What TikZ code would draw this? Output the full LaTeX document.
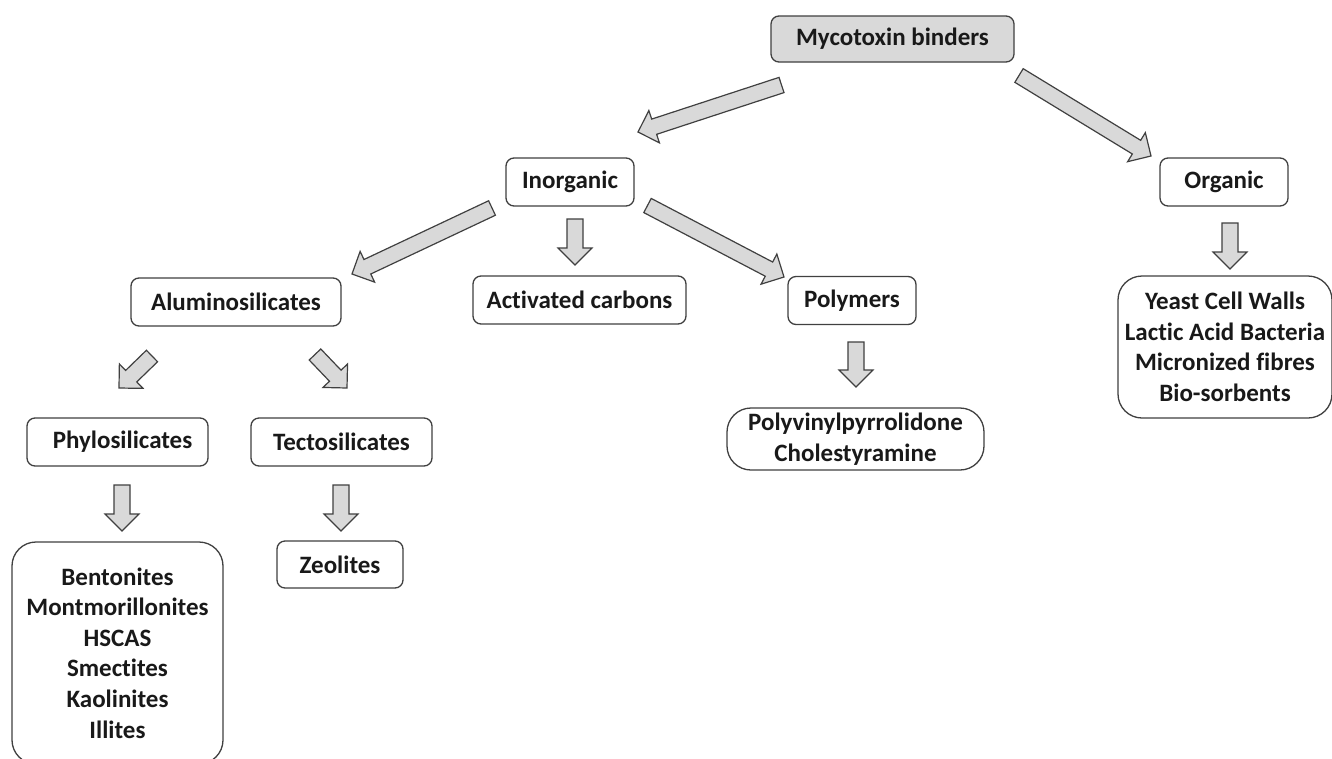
\documentclass[tikz,border=0pt]{standalone}
\usepackage{fontspec}
\setmainfont{Carlito}[Ligatures={NoCommon}]
\usetikzlibrary{calc}
\definecolor{boxline}{HTML}{404040}
\definecolor{arrfill}{HTML}{D9D9D9}
\tikzset{
  bx/.style={draw=boxline, line width=1.3pt, rounded corners=8pt, fill=white,
    font=\fontsize{25}{30.6}\selectfont\bfseries, text=black!90, align=center, inner sep=0pt},
  bigbx/.style={bx, rounded corners=24pt},
  barrow/.style={draw=boxline, line width=1.2pt, fill=arrfill, line join=miter},
}
\newcommand{\blockarr}[2]{%
  \coordinate (hb) at ($(#2)!17pt!(#1)$);
  \draw[barrow] ($(#1)!8pt!90:(#2)$) -- ($(hb)!8pt!-90:(#1)$) -- ($(hb)!17pt!-90:(#1)$) -- (#2)
    -- ($(hb)!17pt!90:(#1)$) -- ($(hb)!8pt!90:(#1)$) -- ($(#1)!8pt!-90:(#2)$) -- cycle;
}
\begin{document}
\begin{tikzpicture}[x=1pt,y=-1pt]
\useasboundingbox (0,0) rectangle (1332,758);
\fill[white] (0,0) rectangle (1332,758);
\begin{scope}
\clip (0,0) rectangle (1332,758);
% boxes
\node[bx, fill=arrfill, minimum width=243pt, minimum height=46pt] (myco) at (892.5,39) {Mycotoxin binders};
\node[bx, minimum width=128pt, minimum height=48pt] (inorg) at (570,182) {Inorganic};
\node[bx, minimum width=128pt, minimum height=48pt] (org) at (1224,182) {Organic};
\node[bigbx, minimum width=214pt, minimum height=142pt] (orglist) at (1225,347) {Yeast Cell Walls\\Lactic Acid Bacteria\\Micronized fibres\\Bio-sorbents};
\node[bx, minimum width=210pt, minimum height=48pt] (alum) at (236,302) {Aluminosilicates};
\node[bx, minimum width=213pt, minimum height=48pt] (actc) at (579.5,300) {Activated carbons};
\node[bx, minimum width=128pt, minimum height=48pt] (poly) at (852,300.5) {Polymers};
\node[bigbx, minimum width=257pt, minimum height=62pt] (pvp) at (855.5,439) {Polyvinylpyrrolidone\\Cholestyramine};
\node[bx, minimum width=181pt, minimum height=48pt] (phyl) at (117.5,442) {\hspace*{10pt}Phylosilicates};
\node[bx, minimum width=181pt, minimum height=48pt] (tect) at (341.5,442) {Tectosilicates};
\node[bx, minimum width=126pt, minimum height=47pt] (zeol) at (340,564.5) {Zeolites};
\node[bigbx, minimum width=211pt, minimum height=222pt] (bent) at (117.5,653) {Bentonites\\Montmorillonites\\HSCAS\\Smectites\\Kaolinites\\Illites};
% arrow end points
\coordinate (a1t) at (781.5,85);   \coordinate (a1h) at (638,132);
\coordinate (a2t) at (1019,75.5);  \coordinate (a2h) at (1151,156);
\coordinate (a3t) at (492,208);    \coordinate (a3h) at (352,274);
\coordinate (a4t) at (575,219);    \coordinate (a4h) at (575,265);
\coordinate (a5t) at (647.5,205.5);\coordinate (a5h) at (784,277);
\coordinate (a6t) at (1230,223);   \coordinate (a6h) at (1230,269);
\coordinate (a7t) at (152,356);    \coordinate (a7h) at (119,388);
\coordinate (a8t) at (315,354.5);  \coordinate (a8h) at (347,388);
\coordinate (a9t) at (122,485);    \coordinate (a9h) at (122,531);
\coordinate (a10t) at (341,485);   \coordinate (a10h) at (341,531);
\coordinate (a11t) at (856,342);   \coordinate (a11h) at (856,387);
\blockarr{a1t}{a1h}
\blockarr{a2t}{a2h}
\blockarr{a3t}{a3h}
\blockarr{a4t}{a4h}
\blockarr{a5t}{a5h}
\blockarr{a6t}{a6h}
\blockarr{a7t}{a7h}
\blockarr{a8t}{a8h}
\blockarr{a9t}{a9h}
\blockarr{a10t}{a10h}
\blockarr{a11t}{a11h}
\end{scope}
\end{tikzpicture}
\end{document}
